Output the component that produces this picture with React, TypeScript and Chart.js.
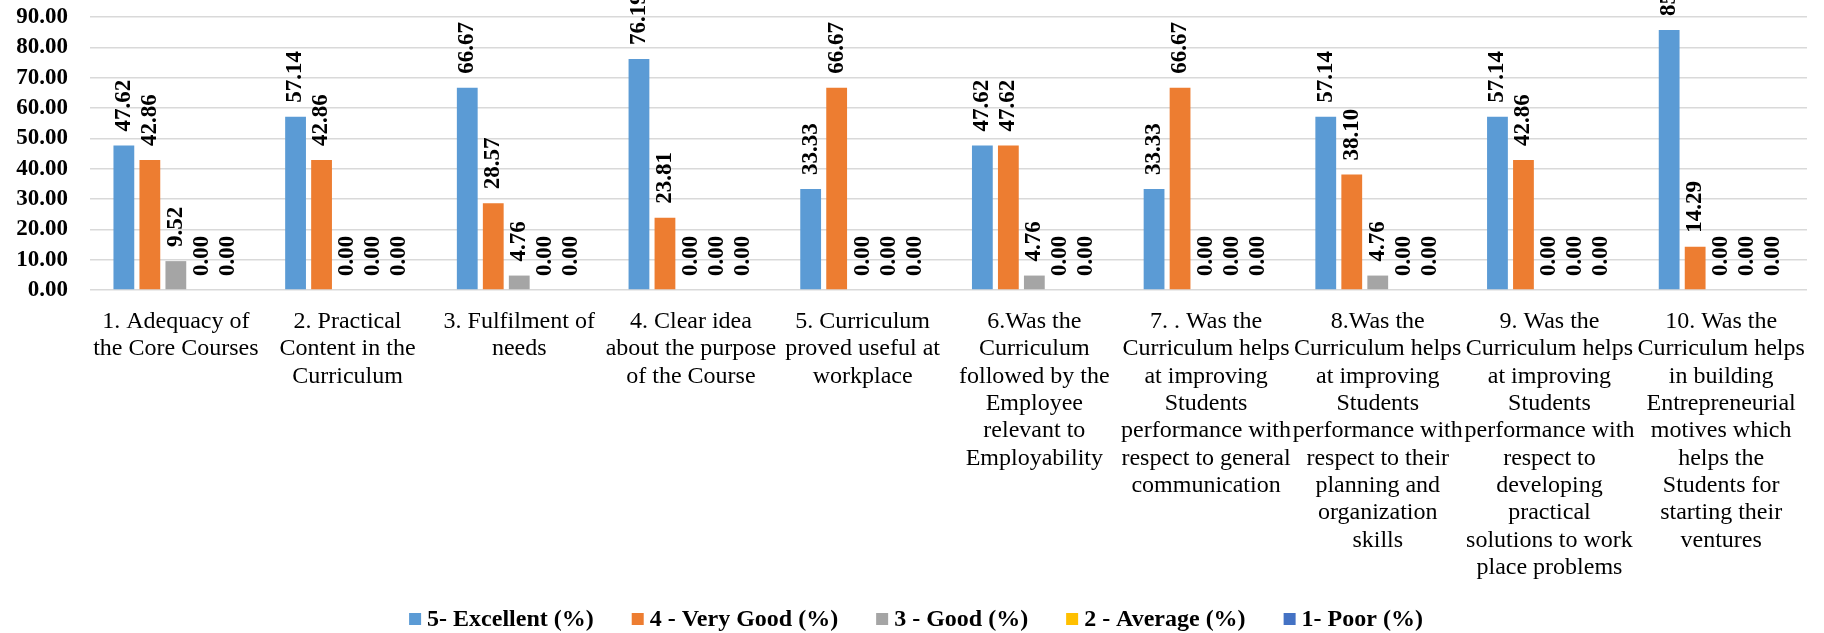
import React, { useEffect, useRef } from "react";
import { Chart, registerables } from "chart.js";

Chart.register(...registerables);

const FONT = '"Liberation Serif", "Times New Roman", Times, serif';

const categories: string[][] = [
  ["1. Adequacy of", "the Core Courses"],
  ["2. Practical", "Content in the", "Curriculum"],
  ["3. Fulfilment of", "needs"],
  ["4. Clear idea", "about the purpose", "of the Course"],
  ["5. Curriculum", "proved useful at", "workplace"],
  ["6.Was the", "Curriculum", "followed by the", "Employee", "relevant to", "Employability"],
  ["7. . Was the", "Curriculum helps", "at improving", "Students", "performance with", "respect to general", "communication"],
  ["8.Was the", "Curriculum helps", "at improving", "Students", "performance with", "respect to their", "planning and", "organization", "skills"],
  ["9. Was the", "Curriculum helps", "at improving", "Students", "performance with", "respect to", "developing", "practical", "solutions to work", "place problems"],
  ["10. Was the", "Curriculum helps", "in building", "Entrepreneurial", "motives which", "helps the", "Students for", "starting their", "ventures"],
];

const excellent = [47.62, 57.14, 66.67, 76.19, 33.33, 47.62, 33.33, 57.14, 57.14, 85.71];
const veryGood = [42.86, 42.86, 28.57, 23.81, 66.67, 47.62, 66.67, 38.1, 42.86, 14.29];
const good = [9.52, 0, 4.76, 0, 0, 4.76, 0, 4.76, 0, 0];
const average = [0, 0, 0, 0, 0, 0, 0, 0, 0, 0];
const poor = [0, 0, 0, 0, 0, 0, 0, 0, 0, 0];

const seriesNames = ["5- Excellent (%)", "4 - Very Good (%)", "3 - Good (%)", "2 - Average (%)", "1- Poor (%)"];
const seriesValues = [excellent, veryGood, good, average, poor];
const seriesColors = ["#5B9BD5", "#ED7D31", "#A5A5A5", "#FFC000", "#4472C4"];

const yMin = 0;
const yMax = 90;
const yStep = 10;

const dataLabelPlugin = {
  id: "dataLabels",
  afterDatasetsDraw(chart: any) {
    const ctx = chart.ctx;
    ctx.save();
    ctx.font = `bold 23px ${FONT}`;
    ctx.fillStyle = "#000";
    ctx.textAlign = "left";
    ctx.textBaseline = "middle";
    chart.data.datasets.forEach((ds: any, di: number) => {
      const meta = chart.getDatasetMeta(di);
      meta.data.forEach((el: any, i: number) => {
        const v = ds.data[i] as number;
        ctx.save();
        ctx.translate(el.x, el.y - 14);
        ctx.rotate(-Math.PI / 2);
        ctx.fillText(v.toFixed(2), 0, 0);
        ctx.restore();
      });
    });
    ctx.restore();
  },
};

const legendPlugin = {
  id: "customLegend",
  afterDraw(chart: any) {
    const ctx = chart.ctx;
    ctx.save();
    ctx.font = `bold 24px ${FONT}`;
    ctx.textAlign = "left";
    ctx.textBaseline = "middle";
    const box = 12;
    const gapText = 6;
    const gapItem = 38;
    const widths = seriesNames.map((n) => ctx.measureText(n).width);
    const total =
      widths.reduce((a, b) => a + b, 0) +
      seriesNames.length * (box + gapText) +
      (seriesNames.length - 1) * gapItem;
    let x = (chart.width - total) / 2 + 4;
    const y = chart.height - 14;
    seriesNames.forEach((n, i) => {
      ctx.fillStyle = seriesColors[i];
      ctx.fillRect(x, y - box / 2, box, box);
      x += box + gapText;
      ctx.fillStyle = "#000";
      ctx.fillText(n, x, y + 1);
      x += widths[i] + gapItem;
    });
    ctx.restore();
  },
};

export default function App() {
  const canvasRef = useRef<HTMLCanvasElement | null>(null);

  useEffect(() => {
    if (!canvasRef.current) return;
    const chart = new Chart(canvasRef.current, {
      type: "bar",
      data: {
        labels: categories,
        datasets: seriesNames.map((name, i) => ({
          label: name,
          data: seriesValues[i],
          backgroundColor: seriesColors[i],
          borderWidth: 0,
          categoryPercentage: 0.757,
          barPercentage: 0.8,
        })),
      },
      options: {
        responsive: false,
        animation: false,
        layout: { padding: { top: 17, right: 17, left: 0, bottom: 0 } },
        plugins: {
          legend: { display: false },
          tooltip: { enabled: false },
        },
        scales: {
          x: {
            grid: { display: false, drawTicks: false },
            border: { display: false },
            ticks: {
              color: "#000",
              font: { family: FONT, size: 24, lineHeight: 1.14 },
              padding: 18,
              maxRotation: 0,
              minRotation: 0,
              autoSkip: false,
            },
            afterFit: (scale: any) => {
              scale.height = 343;
            },
          },
          y: {
            min: yMin,
            max: yMax,
            grid: {
              color: "#d9d9d9",
              lineWidth: 1.5,
              drawTicks: true,
              tickLength: 20,
              tickColor: "rgba(0,0,0,0)",
            },
            border: { display: false },
            ticks: {
              stepSize: yStep,
              autoSkip: false,
              color: "#000",
              font: { family: FONT, size: 23, weight: "bold" },
              padding: 2,
              callback: (v: any) => Number(v).toFixed(2),
            },
            afterFit: (scale: any) => {
              scale.width = 90;
            },
          },
        },
      },
      plugins: [dataLabelPlugin, legendPlugin],
    });
    return () => chart.destroy();
  }, []);

  return (
    <div style={{ position: "absolute", left: 0, top: 0, width: 1824, height: 633 }}>
      <canvas ref={canvasRef} width={1824} height={633} style={{ display: "block" }} />
    </div>
  );
}
